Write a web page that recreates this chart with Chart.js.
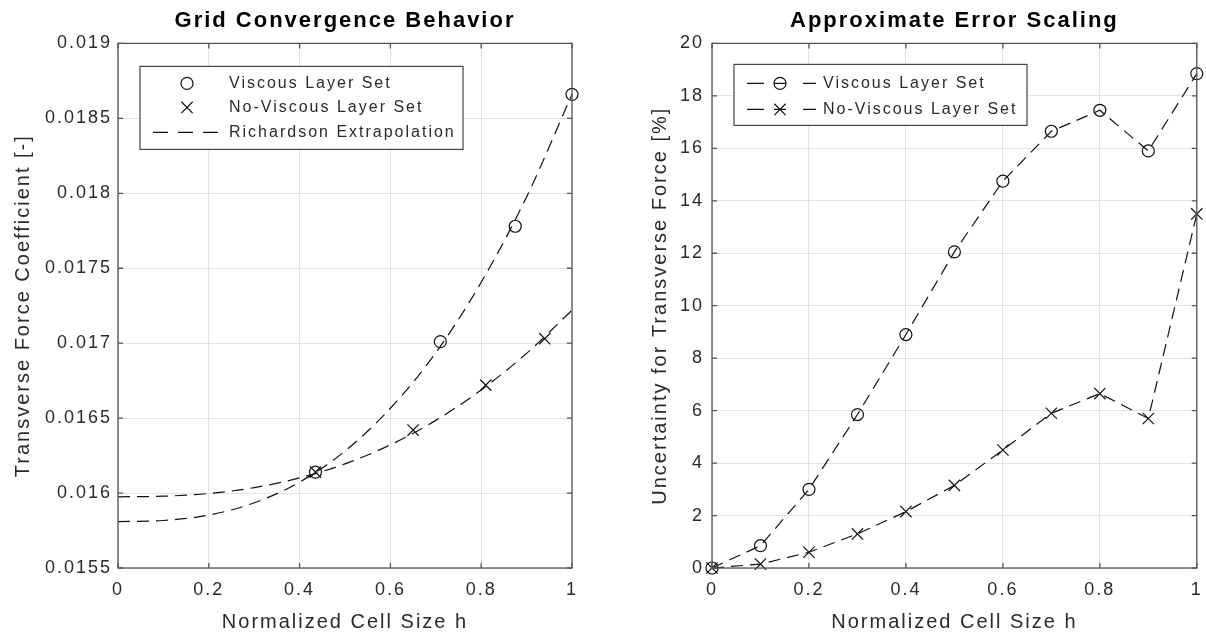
<!DOCTYPE html>
<html lang="en">
<head>
<meta charset="UTF-8">
<title>Grid Convergence / Error Scaling</title>
<script src="https://cdn.jsdelivr.net/npm/chart.js"></script>
<style>
  body { margin: 0; background: #fff; width: 1206px; height: 635px; position: relative; overflow: hidden; }
  canvas { position: absolute; top: 0; }
  #convChart { left: 0; }
  #errChart { left: 600px; }
</style>
</head>
<body>
<canvas id="convChart" width="600" height="635"></canvas>
<canvas id="errChart" width="606" height="635"></canvas>
<script>
  // left plot: grid convergence
  const hTicks = [0, 0.2, 0.4, 0.6, 0.8, 1];
  const cfTicks = [0.0155, 0.016, 0.0165, 0.017, 0.0175, 0.018, 0.0185, 0.019];

  const viscH = [0.435, 0.71, 0.875, 1.0];
  const viscCf = [0.01614, 0.01701, 0.01778, 0.01866];
  const noViscH = [0.435, 0.65, 0.81, 0.94];
  const noViscCf = [0.01614, 0.01642, 0.01672, 0.01703];

  const richH = [0, 0.1, 0.2, 0.3, 0.4, 0.5, 0.6, 0.7, 0.8, 0.9, 1];
  const richVisc = [0.01581, 0.015817, 0.015853, 0.015935, 0.016073, 0.01628, 0.016566, 0.016936, 0.017406, 0.017976, 0.01866];
  const richNoVisc = [0.015975, 0.015979, 0.015997, 0.016036, 0.016101, 0.016195, 0.016322, 0.016485, 0.016688, 0.016932, 0.01722];

  // right plot: error scaling
  const errH = [0, 0.1, 0.2, 0.3, 0.4, 0.5, 0.6, 0.7, 0.8, 0.9, 1];
  const uncTicks = [0, 2, 4, 6, 8, 10, 12, 14, 16, 18, 20];
  const viscUnc = [0, 0.85, 3.0, 5.85, 8.9, 12.05, 14.75, 16.65, 17.45, 15.9, 18.85];
  const noViscUnc = [0, 0.15, 0.6, 1.3, 2.15, 3.15, 4.5, 5.9, 6.65, 5.7, 13.5];

  const FONT = "'Liberation Sans', Arial, Helvetica, sans-serif";
  const INK = '#111';
  const TXT = '#2a2a2a';
  const DASH = [12, 7];

  const pts = (xs, ys) => xs.map((x, i) => ({ x, y: ys[i] }));

  // MATLAB-ish text is letter-spaced
  const spacing = {
    id: 'spacing',
    beforeLayout(chart) { chart.ctx.letterSpacing = '2px'; },
    beforeDraw(chart) { chart.ctx.letterSpacing = '2px'; }
  };

  // box round the axes + inward ticks + legend inside the plot
  const axesBox = {
    id: 'axesBox',
    afterDraw(chart, args, opts) {
      const { ctx, chartArea: a, scales: { x, y } } = chart;
      ctx.save();
      ctx.strokeStyle = '#555';
      ctx.lineWidth = 1.3;
      ctx.beginPath();
      x.ticks.forEach(t => {
        const px = x.getPixelForValue(t.value);
        ctx.moveTo(px, a.bottom); ctx.lineTo(px, a.bottom - 5);
        ctx.moveTo(px, a.top); ctx.lineTo(px, a.top + 5);
      });
      y.ticks.forEach(t => {
        const py = y.getPixelForValue(t.value);
        ctx.moveTo(a.left, py); ctx.lineTo(a.left + 5, py);
        ctx.moveTo(a.right, py); ctx.lineTo(a.right - 5, py);
      });
      ctx.stroke();
      ctx.strokeRect(a.left, a.top, a.right - a.left, a.bottom - a.top);

      const lg = opts.legend;
      if (lg) {
        const bx = a.left + lg.dx, by = a.top + lg.dy;
        ctx.fillStyle = '#fff';
        ctx.fillRect(bx, by, lg.w, lg.h);
        ctx.strokeStyle = '#444';
        ctx.lineWidth = 1.2;
        ctx.strokeRect(bx, by, lg.w, lg.h);
        ctx.font = '16px ' + FONT;
        ctx.letterSpacing = '2px';
        ctx.textBaseline = 'middle';
        ctx.textAlign = 'left';
        lg.items.forEach(it => {
          const cy = by + it.dy;
          ctx.strokeStyle = INK;
          ctx.lineWidth = 1.2;
          ctx.setLineDash([]);
          if (it.segs) {
            ctx.beginPath();
            it.segs.forEach(s => { ctx.moveTo(bx + s[0], cy); ctx.lineTo(bx + s[1], cy); });
            ctx.stroke();
          }
          if (it.marker) {
            ctx.fillStyle = 'rgba(0,0,0,0)';
            Chart.helpers.drawPoint(ctx, { pointStyle: it.marker, radius: it.r, rotation: 0, borderWidth: 1.2 }, bx + lg.mx, cy);
          }
          ctx.fillStyle = TXT;
          ctx.fillText(it.text, bx + lg.tx, cy);
        });
      }
      ctx.restore();
    }
  };

  function makeOptions(cfg) {
    return {
      responsive: false,
      animation: false,
      events: [],
      layout: { padding: { left: 0, right: cfg.padRight, top: 0, bottom: 0 } },
      scales: {
        x: {
          type: 'linear', min: 0, max: 1,
          afterBuildTicks: s => { s.ticks = hTicks.map(v => ({ value: v })); },
          afterFit: s => { s.height = 67; s.paddingLeft = 0; s.paddingRight = 0; },
          grid: { color: '#e3e3e3', drawTicks: false },
          border: { display: false },
          ticks: { color: TXT, font: { family: FONT, size: 18 }, padding: 11, callback: v => String(v), maxRotation: 0 },
          title: { display: true, text: 'Normalized Cell Size h', color: TXT, font: { family: FONT, size: 20 }, padding: { top: 0, bottom: 1 } }
        },
        y: {
          type: 'linear', min: cfg.yTicks[0], max: cfg.yTicks[cfg.yTicks.length - 1],
          afterBuildTicks: s => { s.ticks = cfg.yTicks.map(v => ({ value: v })); },
          afterFit: s => { s.width = cfg.yWidth; },
          grid: { color: '#e3e3e3', drawTicks: false },
          border: { display: false },
          ticks: { color: TXT, font: { family: FONT, size: 18 }, padding: cfg.yTickPad, callback: v => String(v) },
          title: { display: true, text: cfg.yTitle, color: TXT, font: { family: FONT, size: 20 }, padding: { top: cfg.yTitlePad, bottom: 0 } }
        }
      },
      plugins: {
        legend: { display: false },
        tooltip: { enabled: false },
        title: {
          display: true, text: cfg.title, fullSize: false, color: '#000',
          font: { family: FONT, size: 22, weight: 'bold' },
          padding: { top: 8, bottom: 9 }
        },
        axesBox: { legend: cfg.legend }
      }
    };
  }

  const lineBase = { borderColor: INK, borderWidth: 1.2, borderDash: DASH, clip: false };
  const markBase = { showLine: false, pointBorderColor: INK, pointBackgroundColor: 'rgba(0,0,0,0)', pointBorderWidth: 1.2, clip: false };

  new Chart(document.getElementById('convChart'), {
    type: 'scatter',
    data: {
      datasets: [
        { ...lineBase, data: pts(richH, richVisc), showLine: true, pointRadius: 0, cubicInterpolationMode: 'monotone' },
        { ...lineBase, data: pts(richH, richNoVisc), showLine: true, pointRadius: 0, cubicInterpolationMode: 'monotone' },
        { ...markBase, data: pts(viscH, viscCf), pointStyle: 'circle', pointRadius: 6 },
        { ...markBase, data: pts(noViscH, noViscCf), pointStyle: 'crossRot', pointRadius: 8 }
      ]
    },
    options: makeOptions({
      yTicks: cfTicks, yWidth: 118, yTickPad: 6, yTitlePad: 11, padRight: 28,
      yTitle: 'Transverse Force Coefficient [-]',
      title: 'Grid Convergence Behavior',
      legend: {
        dx: 22, dy: 23, w: 323, h: 83, mx: 47, tx: 89,
        items: [
          { text: 'Viscous Layer Set', marker: 'circle', r: 6, dy: 17 },
          { text: 'No-Viscous Layer Set', marker: 'crossRot', r: 8, dy: 41 },
          { text: 'Richardson Extrapolation', segs: [[13, 28], [38, 53], [63, 78]], dy: 66 }
        ]
      }
    }),
    plugins: [spacing, axesBox]
  });

  new Chart(document.getElementById('errChart'), {
    type: 'scatter',
    data: {
      datasets: [
        { ...lineBase, ...markBase, showLine: true, data: pts(errH, viscUnc), pointStyle: 'circle', pointRadius: 6 },
        { ...lineBase, ...markBase, showLine: true, data: pts(errH, noViscUnc), pointStyle: 'crossRot', pointRadius: 8 }
      ]
    },
    options: makeOptions({
      yTicks: uncTicks, yWidth: 112, yTickPad: 8, yTitlePad: 48, padRight: 5,
      yTitle: 'Uncertainty for Transverse Force [%]',
      title: 'Approximate Error Scaling',
      legend: {
        dx: 22, dy: 21, w: 293, h: 61, mx: 46, tx: 89,
        items: [
          { text: 'Viscous Layer Set', marker: 'circle', r: 6, segs: [[13, 30], [40, 52], [69, 82]], dy: 19 },
          { text: 'No-Viscous Layer Set', marker: 'crossRot', r: 8, segs: [[13, 30], [40, 52], [69, 82]], dy: 45 }
        ]
      }
    }),
    plugins: [spacing, axesBox]
  });
</script>
</body>
</html>
